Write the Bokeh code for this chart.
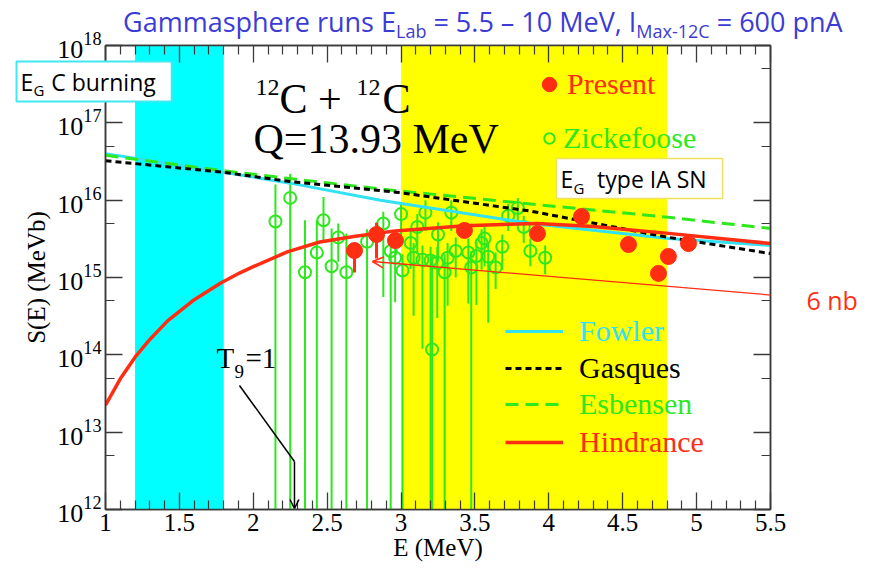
from bokeh.plotting import figure
from bokeh.models import (Range1d, FixedTicker, LinearAxis, LogAxis, BoxAnnotation, Div, GridBox,
                          Label, Legend, LegendItem, Arrow, OpenHead, CustomJSTickFormatter)
from bokeh.embed import file_html
from bokeh.resources import INLINE

# ---------------- data ----------------
x_ticks = [1, 1.5, 2, 2.5, 3, 3.5, 4, 4.5, 5, 5.5]
x_tick_labels = ["1", "1.5", "2", "2.5", "3", "3.5", "4", "4.5", "5", "5.5"]
x_minor_ticks = [1.1, 1.2, 1.3, 1.4, 1.6, 1.7, 1.8, 1.9, 2.1, 2.2, 2.3, 2.4, 2.6, 2.7, 2.8, 2.9,
                 3.1, 3.2, 3.3, 3.4, 3.6, 3.7, 3.8, 3.9, 4.1, 4.2, 4.3, 4.4, 4.6, 4.7, 4.8, 4.9,
                 5.1, 5.2, 5.3, 5.4]
y_ticks = [1e12, 1e13, 1e14, 1e15, 1e16, 1e17, 1e18]
y_minor_ticks = [5e12, 5e13, 5e14, 5e15, 5e16, 5e17]

band_c_burning = [1.2, 1.8]
band_type_ia = [3.0, 4.8]

fowler_E = [1.0, 1.8, 2.25, 2.86, 3.88, 4.81, 5.5]
fowler_S = [4.0e16, 2.3e16, 1.66e16, 1.0e16, 5.0e15, 3.2e15, 2.6e15]

gasques_E = [1.0, 1.8, 2.25, 2.98, 3.88, 4.81, 5.5]
gasques_S = [3.24e16, 2.29e16, 1.74e16, 1.26e16, 7.2e15, 3.3e15, 2.04e15]

esbensen_E = [1.0, 1.8, 2.25, 2.98, 3.88, 4.81, 5.5]
esbensen_S = [3.8e16, 2.4e16, 1.9e16, 1.32e16, 8.9e15, 6.0e15, 4.3e15]

hindrance_E = [1.0, 1.1, 1.2, 1.3, 1.42, 1.59, 1.78, 1.91, 2.0, 2.23, 2.45, 2.68, 2.83,
               2.96, 3.43, 3.92, 4.3, 4.81, 5.5]
hindrance_S = [2.24e13, 4.9e13, 9.33e13, 1.58e14, 2.75e14, 5.0e14, 8.5e14, 1.15e15,
               1.38e15, 2.14e15, 2.88e15, 3.39e15, 3.72e15, 3.98e15, 4.68e15, 5.01e15,
               4.57e15, 3.72e15, 2.75e15]

present_E = [2.685, 2.834, 2.962, 3.429, 3.923, 4.221, 4.539, 4.742, 4.809, 4.945]
present_S = [2.23e15, 3.6e15, 3.0e15, 4.06e15, 3.7e15, 6.15e15, 2.67e15, 1.13e15, 1.87e15, 2.75e15]
present_lo = [1.16e15, 1.76e15, 2.7e15, 3.7e15, 3.4e15, 5.6e15, 2.45e15, 1.03e15, 1.7e15, 2.5e15]
present_hi = [2.8e15, 5.1e15, 3.3e15, 4.45e15, 4.0e15, 6.7e15, 2.9e15, 1.24e15, 2.05e15, 3.0e15]

zick_E = [2.15, 2.25, 2.35, 2.43, 2.475, 2.53, 2.575, 2.63, 2.77, 2.88, 2.93, 2.96, 3.00, 3.01,
          3.065, 3.11, 3.165, 3.085, 3.145, 3.20, 3.25, 3.245, 3.295, 3.34, 3.315, 3.37, 3.455,
          3.475, 3.51, 3.545, 3.565, 3.59, 3.64, 3.685, 3.725, 3.79, 3.83, 3.875, 3.975, 3.21]
zick_S = [5.3e15, 1.07e16, 1.17e15, 2.1e15, 5.5e15, 1.4e15, 3.3e15, 1.17e15, 2.9e15, 5.0e15,
          2.2e15, 1.8e15, 6.6e15, 1.23e15, 2.8e15, 4.5e15, 6.9e15, 1.8e15, 1.7e15, 1.66e15,
          3.6e15, 1.55e15, 1.17e15, 6.9e15, 1.8e15, 2.2e15, 2.1e15, 1.35e15, 1.9e15, 2.8e15,
          3.2e15, 1.86e15, 1.35e15, 2.5e15, 6.3e15, 7.9e15, 4.5e15, 2.2e15, 1.8e15, 1.17e14]
zick_hi = [1.6e16, 2.2e16, 5.5e15, 5.5e15, 1.1e16, 4.3e15, 5.0e15, 3.7e15, 4.2e15, 7.1e15,
           3.5e15, 2.8e15, 9.5e15, 2.0e15, 4.2e15, 6.6e15, 1.0e16, 2.8e15, 2.6e15, 2.5e15,
           5.2e15, 2.5e15, 2.0e15, 1.0e16, 2.8e15, 3.3e15, 3.2e15, 2.2e15, 3.0e15, 4.2e15,
           4.6e15, 2.8e15, 2.1e15, 3.6e15, 8.9e15, 1.07e16, 6.3e15, 3.2e15, 2.6e15, 2.0e15]
zick_lo = [1e11, 1e11, 1e11, 1e11, 2.8e15, 1e11, 1.6e15, 1e11, 1e11, 5.6e14,
           1e11, 4.8e14, 3.5e15, 1e11, 1.3e15, 2.0e15, 4.0e15, 3.2e14, 1.2e14, 1e11,
           1.6e15, 3.0e14, 1e11, 4.0e15, 4.3e14, 1.0e15, 4.6e14, 1e11, 4.4e14, 1.26e15,
           1.4e15, 2.6e14, 7.1e14, 1.26e15, 4.0e15, 5.2e15, 2.8e15, 1.4e15, 1.1e15, 1e11]

title_parts = ["Gammasphere runs E", "Lab", " = 5.5 \u2013 10 MeV, I", "Max-12C", " = 600 pnA"]

# ---------------- colours / fonts ----------------
CYAN_BAND = "#00ffff"
YELLOW_BAND = "#ffff00"
FOWLER = "#33e2f2"
GREEN = "#2ee81e"
RED = "#ff2d12"
TITLE_BLUE = "#3c3cd4"
AXIS = "#3a3a3a"
SERIF = "Times New Roman"
SANS = "Open Sans"
NB = "\u00a0"  # non-breaking space (not collapsed in SVG text)

# frame placement (picture px) used only to place annotations
FL, FT, PXE, PXD = 105.0, 45.0, 147.8, 77.33


def dx(xp):
    return 1 + (xp - FL) / PXE


def dy(yp):
    return 10 ** (18 - (yp - FT) / PXD)


p = figure(width=869, height=568, x_range=Range1d(1, 5.5), y_range=Range1d(1e12, 1e18),
           y_axis_type="log", output_backend="svg", toolbar_location=None,
           min_border_left=105, min_border_right=99, min_border_top=45, min_border_bottom=59)
p.grid.visible = False
p.outline_line_color = AXIS
p.outline_line_width = 1.5
p.background_fill_color = "white"
p.border_fill_color = "white"

xt = FixedTicker(ticks=x_ticks, minor_ticks=x_minor_ticks)
yt = FixedTicker(ticks=y_ticks, minor_ticks=y_minor_ticks)


def style_axis(ax):
    ax.major_tick_in = 17
    ax.major_tick_out = 0
    ax.minor_tick_in = 9
    ax.minor_tick_out = 0
    ax.axis_line_color = AXIS
    ax.axis_line_width = 1.5
    ax.major_tick_line_color = AXIS
    ax.major_tick_line_width = 1.3
    ax.minor_tick_line_color = AXIS
    ax.minor_tick_line_width = 1.2
    ax.major_label_text_color = "black"
    ax.major_label_text_font = SERIF
    ax.axis_label_text_font = SERIF
    ax.axis_label_text_font_style = "normal"
    ax.axis_label_text_color = "black"


xa = p.xaxis[0]
xa.ticker = xt
xa.major_label_overrides = {t: s for t, s in zip(x_ticks, x_tick_labels)}
style_axis(xa)
xa.major_label_text_font_size = "25px"
xa.major_label_standoff = 4
xa.axis_label = "E (MeV)"
xa.axis_label_text_font_size = "25px"
xa.axis_label_standoff = 0

ya = p.yaxis[0]
ya.ticker = yt
style_axis(ya)
ya.major_label_text_font_size = "26px"
ya.major_label_standoff = 4
ya.axis_label = "S(E) (MeVb)"
ya.axis_label_text_font_size = "25px"
ya.axis_label_standoff = 4

blank = CustomJSTickFormatter(code="return ''")
top = LinearAxis(ticker=xt, formatter=blank, major_label_standoff=0)
style_axis(top)
p.add_layout(top, "above")
right = LogAxis(ticker=yt, formatter=blank, major_label_standoff=0)
style_axis(right)
p.add_layout(right, "right")

# bands
p.add_layout(BoxAnnotation(left=band_c_burning[0], right=band_c_burning[1], fill_color=CYAN_BAND,
                           fill_alpha=1, line_alpha=0, level="underlay"))
p.add_layout(BoxAnnotation(left=band_type_ia[0], right=band_type_ia[1], fill_color=YELLOW_BAND,
                           fill_alpha=1, line_alpha=0, level="underlay"))

# Zickefoose
p.segment(x0=zick_E, y0=zick_lo, x1=zick_E, y1=zick_hi, line_color=GREEN, line_width=2)
r_zick = p.scatter(zick_E, zick_S, marker="circle", size=12, fill_color=None,
                   line_color=GREEN, line_width=2)

# model curves
r_fowler = p.line(fowler_E, fowler_S, line_color=FOWLER, line_width=3)
r_esb = p.line(esbensen_E, esbensen_S, line_color=GREEN, line_width=3, line_dash="13 7")
r_gas = p.line(gasques_E, gasques_S, line_color="black", line_width=3, line_dash="6 4")
r_hind = p.line(hindrance_E, hindrance_S, line_color=RED, line_width=3.5)

# Present
p.segment(x0=present_E, y0=present_lo, x1=present_E, y1=present_hi, line_color=RED, line_width=3)
r_present = p.scatter(present_E, present_S, marker="circle", size=16, fill_color=RED,
                      line_color=RED)


def add_legend(r, label, color, loc, gw, gh, standoff):
    leg = Legend(items=[LegendItem(label=label, renderers=[r])], location=loc,
                 padding=0, margin=0, spacing=0, border_line_color=None,
                 background_fill_alpha=0, glyph_width=gw, glyph_height=gh,
                 label_standoff=standoff, label_height=gh, label_text_font=SERIF,
                 label_text_font_size="30px", label_text_color=color)
    p.add_layout(leg)


add_legend(r_present, "Present", RED, (426, 407), 36, 36, 0)
add_legend(r_zick, "Zickefoose", GREEN, (431, 353), 26, 36, 1)
add_legend(r_fowler, "Fowler", FOWLER, (400, 160), 58, 36, 16)
add_legend(r_gas, "Gasques", "black", (400, 123), 58, 36, 16)
add_legend(r_esb, "Esbensen", GREEN, (400, 87), 58, 36, 16)
add_legend(r_hind, "Hindrance", RED, (400, 49), 58, 36, 16)


def lab(xp, yp, text, size, font=SERIF, color="black", place="center", **kw):
    # yp is the vertical middle of the text line, in picture pixels
    l = Label(x=dx(xp), y=dy(yp), text=text, text_font=font, text_font_size=f"{size}px",
              text_color=color, text_baseline="middle", text_align="left", **kw)
    p.add_layout(l, place)
    return l


# boxes ("above"/"right" panels are used so that they are not clipped to the frame)
lab(16, 81, "E" + NB * 3 + "C burning" + NB * 2, 23, SANS, "black", "above",
    background_fill_color="white", border_line_color="#40e8f0", border_line_width=2, padding=4)
lab(33, 89, "G", 15, SANS, "black", "right")
lab(556, 178, "E" + NB * 4 + "type IA SN" + NB * 2, 23, SANS, "black",
    background_fill_color="white", border_line_color="#f0e060", border_line_width=1.5, padding=4)
lab(573, 187, "G", 15, SANS, "black")

# reaction text
lab(255, 87, "12", 24)
lab(279, 98, "C +", 42)
lab(356, 87, "12", 24)
lab(382, 98, "C", 42)
lab(253, 138, "Q=13.93 MeV", 42)

# T9 = 1
lab(216, 357, "T", 29)
lab(234, 371, "9", 19)
lab(245, 357, "=1", 29)
p.add_layout(Arrow(end=None, x_start=dx(239), y_start=dy(385), x_end=dx(294), y_end=dy(461),
                   line_color="black", line_width=1.5))
p.add_layout(Arrow(end=OpenHead(size=9, line_color="black", line_width=1.5),
                   x_start=dx(294), y_start=dy(461), x_end=dx(294), y_end=dy(508),
                   line_color="black", line_width=1.5))

# 6 nb
lab(806, 299, "6 nb", 25, SANS, RED, "right")
p.add_layout(Arrow(end=OpenHead(size=11, line_color=RED, line_width=1.5),
                   x_start=dx(800), y_start=dy(297), x_end=dx(372), y_end=dy(261),
                   line_color=RED, line_width=1.3))

# title with subscripts, laid over the top border of the figure
sub = '<span style="font-size:18px; vertical-align:-6px;">{}</span>'
title_html = (
    '<div style="padding-left:118px; white-space:nowrap; font-family:\'Open Sans\'; '
    f'font-size:27px; line-height:33px; color:{TITLE_BLUE};">'
    + title_parts[0] + sub.format(title_parts[1]) + title_parts[2]
    + sub.format(title_parts[3]) + title_parts[4] + '</div>')
title_div = Div(text=title_html, width=869, height=36)

layout = GridBox(children=[(p, 0, 0), (title_div, 0, 0)])

open("out.html", "w").write(file_html(layout, INLINE))
